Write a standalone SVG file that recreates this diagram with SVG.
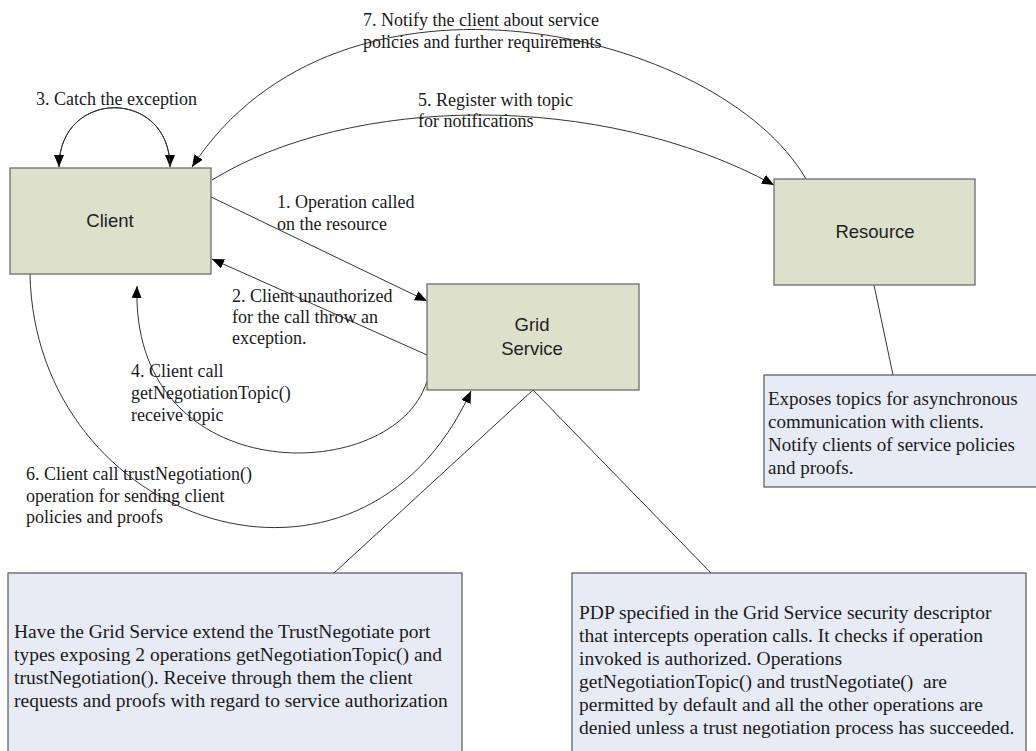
<svg xmlns="http://www.w3.org/2000/svg" width="1036" height="751" viewBox="0 0 1036 751">
  <style>
    .node rect { fill: #dde0cb; stroke: #6e6e6e; stroke-width: 1.3; }
    .node text { font-family: "Liberation Sans", Arial, sans-serif; font-size: 18.5px; fill: #222; text-anchor: middle; }
    .note rect { fill: #e6ebf6; stroke: #555; stroke-width: 1.2; }
    .note text { font-family: "Liberation Serif", "Times New Roman", serif; font-size: 19.5px; fill: #1a1a1a; }
    #note-resource text { font-size: 19px; }
    .lbl { font-family: "Liberation Serif", "Times New Roman", serif; font-size: 18px; fill: #1a1a1a; }
    .conn path, .conn line { fill: none; stroke: #333; stroke-width: 1; }
    .arrow { marker-end: url(#head); }
  </style>
  <defs>
    <marker id="head" viewBox="0 0 12 10" refX="12" refY="5" markerWidth="12" markerHeight="10" markerUnits="userSpaceOnUse" orient="auto">
      <path d="M0,0 L12,5 L0,10 Z" fill="#000"/>
    </marker>
  </defs>

  <!-- connectors -->
  <g id="connectors" class="conn">
    <!-- 3: self loop on client, arrowheads on both ends -->
    <path class="arrow" d="M59,167 C59,88 170,88 170,167"/>
    <path class="arrow" d="M170,167 C170,88 59,88 59,167"/>
    <!-- 7: resource -> client -->
    <path class="arrow" d="M806,179 C720,30 340,-60 192,167"/>
    <!-- 5: client -> resource -->
    <path class="arrow" d="M212,180 C350,95 600,90 774,185"/>
    <!-- 1: client -> grid service -->
    <line class="arrow" x1="211" y1="197" x2="427" y2="301"/>
    <!-- 2: grid service -> client -->
    <line class="arrow" x1="427" y1="355" x2="212" y2="259"/>
    <!-- 4: grid service -> client (topic) -->
    <path class="arrow" d="M427,381 C395,487 130,492 137,286"/>
    <!-- 6: client -> grid service (trust negotiation) -->
    <path class="arrow" d="M30,274 C35,525 360,635 471,391"/>
    <!-- note anchors -->
    <line x1="533" y1="390" x2="334" y2="573"/>
    <line x1="533" y1="390" x2="711" y2="573"/>
    <line x1="874" y1="285" x2="893" y2="375"/>
  </g>

  <!-- connector labels -->
  <g id="labels" class="lbl">
    <text x="363" y="26">7. Notify the client about service</text>
    <text x="363" y="48">policies and further requirements</text>
    <text x="36" y="105">3. Catch the exception</text>
    <text x="418" y="106">5. Register with topic</text>
    <text x="418" y="127">for notifications</text>
    <text x="277" y="208">1. Operation called</text>
    <text x="277" y="230">on the resource</text>
    <text x="232" y="302">2. Client unauthorized</text>
    <text x="232" y="323">for the call throw an</text>
    <text x="232" y="344">exception.</text>
    <text x="131" y="377">4. Client call</text>
    <text x="131" y="399">getNegotiationTopic()</text>
    <text x="131" y="421">receive topic</text>
    <text x="26" y="480">6. Client call trustNegotiation()</text>
    <text x="26" y="502">operation for sending client</text>
    <text x="26" y="523">policies and proofs</text>
  </g>

  <!-- nodes -->
  <g id="client" class="node">
    <rect x="10" y="168" width="201" height="106"/>
    <text x="110" y="227">Client</text>
  </g>
  <g id="grid-service" class="node">
    <rect x="427" y="284" width="212" height="106"/>
    <text x="532" y="331">Grid</text>
    <text x="532" y="355">Service</text>
  </g>
  <g id="resource" class="node">
    <rect x="774" y="179" width="201" height="106"/>
    <text x="875" y="238">Resource</text>
  </g>

  <!-- notes -->
  <g id="note-resource" class="note">
    <rect x="764" y="375" width="280" height="112"/>
    <text x="768" y="405">Exposes topics for asynchronous</text>
    <text x="768" y="428">communication with clients.</text>
    <text x="768" y="451">Notify clients of service policies</text>
    <text x="768" y="474">and proofs.</text>
  </g>
  <g id="note-grid-service" class="note">
    <rect x="8" y="573" width="454" height="200"/>
    <text x="14" y="638">Have the Grid Service extend the TrustNegotiate port</text>
    <text x="14" y="661">types exposing 2 operations getNegotiationTopic() and</text>
    <text x="14" y="684">trustNegotiation(). Receive through them the client</text>
    <text x="14" y="707">requests and proofs with regard to service authorization</text>
  </g>
  <g id="note-pdp" class="note">
    <rect x="572" y="573" width="454" height="200"/>
    <text x="579" y="619">PDP specified in the Grid Service security descriptor</text>
    <text x="579" y="642">that intercepts operation calls. It checks if operation</text>
    <text x="579" y="665">invoked is authorized. Operations</text>
    <text x="579" y="688" xml:space="preserve">getNegotiationTopic() and trustNegotiate()  are</text>
    <text x="579" y="711">permitted by default and all the other operations are</text>
    <text x="579" y="734">denied unless a trust negotiation process has succeeded.</text>
  </g>
</svg>
